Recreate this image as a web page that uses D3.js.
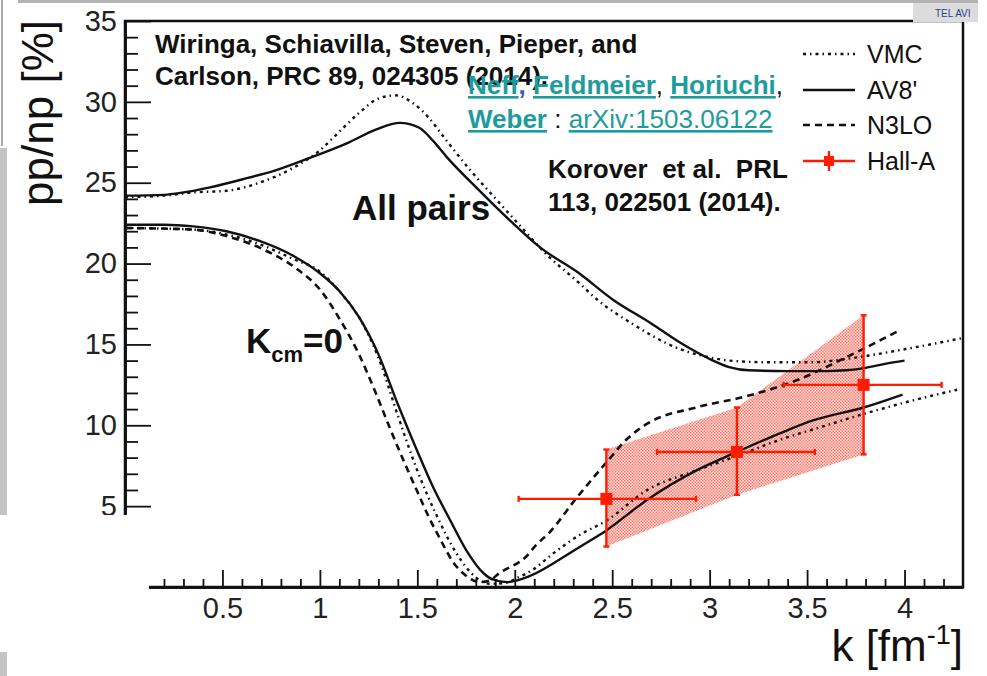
<!DOCTYPE html>
<html>
<head>
<meta charset="utf-8">
<script src="https://cdn.jsdelivr.net/npm/d3@7"></script>
<style>
  html, body { margin: 0; padding: 0; background: #fff; }
  svg { display: block; font-family: "Liberation Sans", Arial, sans-serif; }
</style>
</head>
<body>
<svg id="chart" width="987" height="676"></svg>
<script>
// ---------- data ----------
// All pairs, AV8' (solid)
const allAV8 = [[0,24.2],[0.2,24.25],[0.3,24.4],[0.43,24.7],[0.6,25.2],[0.78,25.8],[0.94,26.5],[1.05,27.0],[1.15,27.5],[1.29,28.3],[1.41,28.7],[1.51,28.4],[1.58,27.6],[1.65,26.6],[1.82,24.5],[1.99,22.5],[2.13,21.0],[2.33,19.4],[2.5,17.8],[2.7,16.3],[2.85,15.1],[3.0,14.1],[3.1,13.6],[3.2,13.4],[3.4,13.35],[3.6,13.35],[3.7,13.4],[3.8,13.55],[3.9,13.8],[4.0,14.0]];
// All pairs, VMC (dash-dot)
const allVMC = [[0,24.1],[0.2,24.2],[0.35,24.4],[0.52,24.5],[0.69,25.0],[0.86,25.9],[1.0,27.0],[1.07,27.8],[1.2,29.3],[1.3,30.2],[1.39,30.4],[1.48,29.9],[1.56,29.0],[1.65,27.6],[1.77,25.8],[1.91,23.9],[2.03,22.3],[2.16,20.6],[2.33,18.8],[2.42,17.8],[2.6,16.3],[2.85,14.7],[3.0,14.2],[3.1,14.0],[3.3,13.9],[3.53,13.9],[3.7,14.1],[3.81,14.3],[4.0,14.7],[4.3,15.4]];
// K_cm = 0, AV8' (solid)
const kcmAV8 = [[0,22.4],[0.2,22.4],[0.35,22.3],[0.52,22.0],[0.69,21.4],[0.86,20.5],[1.0,19.4],[1.1,18.3],[1.2,16.7],[1.3,14.4],[1.4,11.3],[1.5,8.4],[1.58,6.2],[1.67,4.1],[1.75,2.3],[1.84,0.85],[1.89,0.45],[1.96,0.3],[2.01,0.4],[2.09,0.75],[2.23,1.7],[2.35,2.6],[2.47,3.5],[2.68,5.4],[2.93,7.2],[3.14,8.35],[3.36,9.5],[3.53,10.3],[3.79,11.1],[3.99,11.9]];
// K_cm = 0, VMC (dash-dot)
const kcmVMC = [[0,22.2],[0.35,22.1],[0.52,21.8],[0.69,21.2],[0.86,20.3],[1.0,19.5],[1.12,18.0],[1.2,16.7],[1.3,14.2],[1.4,10.6],[1.5,7.2],[1.6,4.4],[1.7,2.1],[1.8,0.6],[1.87,0.2],[1.95,0.25],[2.01,0.55],[2.09,1.05],[2.2,2.1],[2.33,3.2],[2.47,4.1],[2.68,6.0],[2.93,7.2],[3.14,8.1],[3.36,9.1],[3.6,10.0],[3.79,10.7],[4.0,11.4],[4.27,12.2]];
// K_cm = 0, N3LO (dashed)
const kcmN3LO = [[0,22.2],[0.35,22.1],[0.52,21.7],[0.74,20.7],[0.89,19.6],[1.0,18.4],[1.1,16.6],[1.2,14.4],[1.29,11.9],[1.36,9.8],[1.43,7.8],[1.5,5.9],[1.56,4.3],[1.62,2.9],[1.68,1.6],[1.75,0.7],[1.82,0.3],[1.87,0.4],[1.92,0.85],[2.06,1.9],[2.11,2.6],[2.18,3.4],[2.31,5.4],[2.47,7.7],[2.58,9.2],[2.68,10.1],[2.93,11.1],[3.19,11.8],[3.45,12.8],[3.7,14.2],[3.98,15.9]];
// Hall-A measurement
const hallK    = [2.47, 3.14, 3.79];
const hallVal  = [5.45, 8.35, 12.5];
const hallKLo  = [2.02, 2.73, 3.38];
const hallKHi  = [2.93, 3.54, 4.19];
const hallLo   = [2.5, 5.7, 8.2];
const hallHi   = [8.5, 11.1, 16.8];
// axes
const xMajorTicks = [0.5, 1, 1.5, 2, 2.5, 3, 3.5, 4];
const xTickLabels = ["0.5", "1", "1.5", "2", "2.5", "3", "3.5", "4"];
const yMajorTicks = [0, 5, 10, 15, 20, 25, 30, 35];
const yTickLabels = ["0", "5", "10", "15", "20", "25", "30", "35"];
const legendLabels = ["VMC", "AV8'", "N3LO", "Hall-A"];

// ---------- drawing ----------
const svg = d3.select("#chart");
const RED = "#ff1c00", TEAL = "#1e9c9c";
const x = d3.scaleLinear().domain([0, 4.3]).range([125, 963]);
const y = d3.scaleLinear().domain([0, 35]).range([587, 21]);

// pattern for band
const defs = svg.append("defs");
const pat = defs.append("pattern").attr("id", "dots").attr("patternUnits", "userSpaceOnUse")
  .attr("width", 3).attr("height", 3);
pat.append("rect").attr("x", 0).attr("y", 0).attr("width", 3).attr("height", 3).attr("fill", "#ffd9d4");
pat.append("rect").attr("x", 0).attr("y", 0).attr("width", 1.5).attr("height", 1.5).attr("fill", "#ff4a38");
pat.append("rect").attr("x", 1.5).attr("y", 1.5).attr("width", 1.5).attr("height", 1.5).attr("fill", "#ff4a38");

// page decorations (slide screenshot)
svg.append("rect").attr("x", 18).attr("y", 0).attr("width", 960).attr("height", 3).attr("fill", "#b3b3b3");
svg.append("rect").attr("x", 0).attr("y", 148).attr("width", 7).attr("height", 528).attr("fill", "#c4c4c4");
svg.append("line").attr("x1", 2).attr("x2", 2).attr("y1", 0).attr("y2", 146).attr("stroke", "#555").attr("stroke-width", 1);

// band
const bandPts = hallK.map((k, i) => [k, hallHi[i]]).concat(hallK.map((k, i) => [k, hallLo[i]]).reverse());
svg.append("path").attr("d", d3.line().x(d => x(d[0])).y(d => y(d[1]))(bandPts) + "Z")
  .attr("fill", "url(#dots)").attr("opacity", 0.75).attr("stroke", "none");

// curves
const line = d3.line().x(d => x(d[0])).y(d => y(d[1])).curve(d3.curveMonotoneX);
const styles = {
  solid: { dash: null, w: 2.4 },
  dashdot: { dash: "3,4,1.5,4", w: 2.4 },
  dashed: { dash: "7,5", w: 2.6 }
};
[[allVMC, "dashdot"], [allAV8, "solid"], [kcmVMC, "dashdot"], [kcmN3LO, "dashed"], [kcmAV8, "solid"]].forEach(([data, s]) => {
  svg.append("path").attr("d", line(data)).attr("fill", "none").attr("stroke", "#111")
    .attr("stroke-width", styles[s].w).attr("stroke-dasharray", styles[s].dash);
});

// Hall-A points
const hall = svg.append("g").attr("stroke", RED).attr("stroke-width", 2.4);
hallK.forEach((k, i) => {
  const cx = x(k), cy = y(hallVal[i]);
  hall.append("line").attr("x1", x(hallKLo[i])).attr("x2", x(hallKHi[i])).attr("y1", cy).attr("y2", cy);
  hall.append("line").attr("x1", cx).attr("x2", cx).attr("y1", y(hallLo[i])).attr("y2", y(hallHi[i]));
  [hallKLo[i], hallKHi[i]].forEach(kk => hall.append("line").attr("x1", x(kk)).attr("x2", x(kk)).attr("y1", cy - 3).attr("y2", cy + 3));
  [hallLo[i], hallHi[i]].forEach(vv => hall.append("line").attr("x1", cx - 3).attr("x2", cx + 3).attr("y1", y(vv)).attr("y2", y(vv)));
  hall.append("rect").attr("x", cx - 6).attr("y", cy - 6).attr("width", 12).attr("height", 12).attr("fill", RED).attr("stroke", "none");
});

// frame
svg.append("rect").attr("x", 125).attr("y", 21).attr("width", 838).attr("height", 566)
  .attr("fill", "none").attr("stroke", "#111").attr("stroke-width", 2.5);

// y axis
const yMinor = d3.range(0, 36, 1).filter(v => v % 5 !== 0);
const yAx = svg.append("g").attr("transform", "translate(125,0)")
  .call(d3.axisLeft(y).tickValues(yMajorTicks).tickSize(-26).tickSizeOuter(0).tickPadding(8)
    .tickFormat((d, i) => yTickLabels[i]));
const yAxMin = svg.append("g").attr("transform", "translate(125,0)")
  .call(d3.axisLeft(y).tickValues(yMinor).tickSize(-13).tickSizeOuter(0).tickFormat(""));
// x axis
const xMinor = d3.range(1, 43).map(v => v / 10).filter(v => Math.abs(v * 2 - Math.round(v * 2)) > 1e-6);
const xAx = svg.append("g").attr("transform", "translate(0,587)")
  .call(d3.axisBottom(x).tickValues(xMajorTicks).tickSize(-17).tickSizeOuter(0).tickPadding(10)
    .tickFormat((d, i) => xTickLabels[i]));
const xAxMin = svg.append("g").attr("transform", "translate(0,587)")
  .call(d3.axisBottom(x).tickValues(xMinor).tickSize(-8).tickSizeOuter(0).tickFormat(""));
[yAx, yAxMin, xAx, xAxMin].forEach(g => {
  g.selectAll("path.domain").attr("stroke", "#111").attr("stroke-width", 2.5);
  g.selectAll(".tick line").attr("stroke", "#111").attr("stroke-width", 1.8);
  g.selectAll(".tick text").attr("fill", "#222").style("font-size", "29px")
    .style("font-family", "'Liberation Sans', Arial, sans-serif");
});

// axis titles
svg.append("text").attr("transform", "translate(53,20) rotate(-90)").attr("text-anchor", "end")
  .style("font-size", "44px").attr("fill", "#111").text("pp/np [%]");
const xt = svg.append("text").attr("x", 963).attr("y", 661).attr("text-anchor", "end")
  .style("font-size", "44px").attr("fill", "#111");
xt.append("tspan").text("k [fm");
xt.append("tspan").attr("dy", -17).style("font-size", "27px").text("-1");
xt.append("tspan").attr("dy", 17).text("]");

// annotations
const bold = (t, xx, yy, size) => svg.append("text").attr("x", xx).attr("y", yy)
  .style("font-size", size + "px").style("font-weight", "bold").style("white-space", "pre")
  .attr("fill", "#111").text(t);
bold("Wiringa, Schiavilla, Steven, Pieper, and", 155, 53, 26);
bold("Carlson, PRC 89, 024305 (2014).", 155, 85, 26);
bold("Korover  et al.  PRL", 548, 178, 26);
bold("113, 022501 (2014).", 548, 211, 26);
bold("All pairs", 352, 220, 35);

const kc = svg.append("text").attr("x", 246).attr("y", 353).style("font-weight", "bold").attr("fill", "#111").style("font-size", "35px");
kc.append("tspan").text("K");
kc.append("tspan").attr("dy", 9).style("font-size", "22px").text("cm");
kc.append("tspan").attr("dy", -9).text("=0");

const n1 = svg.append("text").attr("x", 468).attr("y", 94).style("font-size", "26px").style("font-weight", "bold").attr("fill", TEAL);
n1.append("tspan").style("text-decoration", "underline").text("Neff");
n1.append("tspan").attr("fill", "#3a55c8").text(", ");
n1.append("tspan").style("text-decoration", "underline").text("Feldmeier");
n1.append("tspan").attr("fill", "#111").style("font-weight", "normal").text(", ");
n1.append("tspan").style("text-decoration", "underline").text("Horiuchi");
n1.append("tspan").attr("fill", "#111").style("font-weight", "normal").text(",");
const n2 = svg.append("text").attr("x", 468).attr("y", 128).style("font-size", "26px").attr("fill", TEAL);
n2.append("tspan").style("font-weight", "bold").style("text-decoration", "underline").text("Weber");
n2.append("tspan").attr("fill", "#111").text(" : ");
n2.append("tspan").style("text-decoration", "underline").text("arXiv:1503.06122");

// legend
const legY = [54, 90, 125, 161];
const lg = svg.append("g");
legendLabels.forEach((lab, i) => {
  const yy = legY[i];
  if (i < 3) {
    const st = [styles.dashdot, styles.solid, styles.dashed][i];
    lg.append("line").attr("x1", 803).attr("x2", 855).attr("y1", yy).attr("y2", yy)
      .attr("stroke", "#111").attr("stroke-width", st.w).attr("stroke-dasharray", st.dash);
  } else {
    lg.append("line").attr("x1", 803).attr("x2", 855).attr("y1", yy).attr("y2", yy).attr("stroke", RED).attr("stroke-width", 2.4);
    lg.append("line").attr("x1", 829).attr("x2", 829).attr("y1", yy - 10).attr("y2", yy + 10).attr("stroke", RED).attr("stroke-width", 2.4);
    lg.append("rect").attr("x", 824).attr("y", yy - 5).attr("width", 10).attr("height", 10).attr("fill", RED);
  }
  lg.append("text").attr("x", 867).attr("y", yy + 9).style("font-size", "25px").attr("fill", "#111").text(lab);
});

// logo box top-right
svg.append("rect").attr("x", 913).attr("y", 3).attr("width", 65).attr("height", 19).attr("fill", "#dcdcdc");
svg.append("text").attr("x", 935).attr("y", 17).style("font-size", "10px").attr("fill", "#2a3f8f").text("TEL AVI");

// white overlay block bottom-left (from the slide)
svg.append("rect").attr("x", 0).attr("y", 515).attr("width", 149).attr("height", 137).attr("fill", "#fff");
</script>
</body>
</html>
